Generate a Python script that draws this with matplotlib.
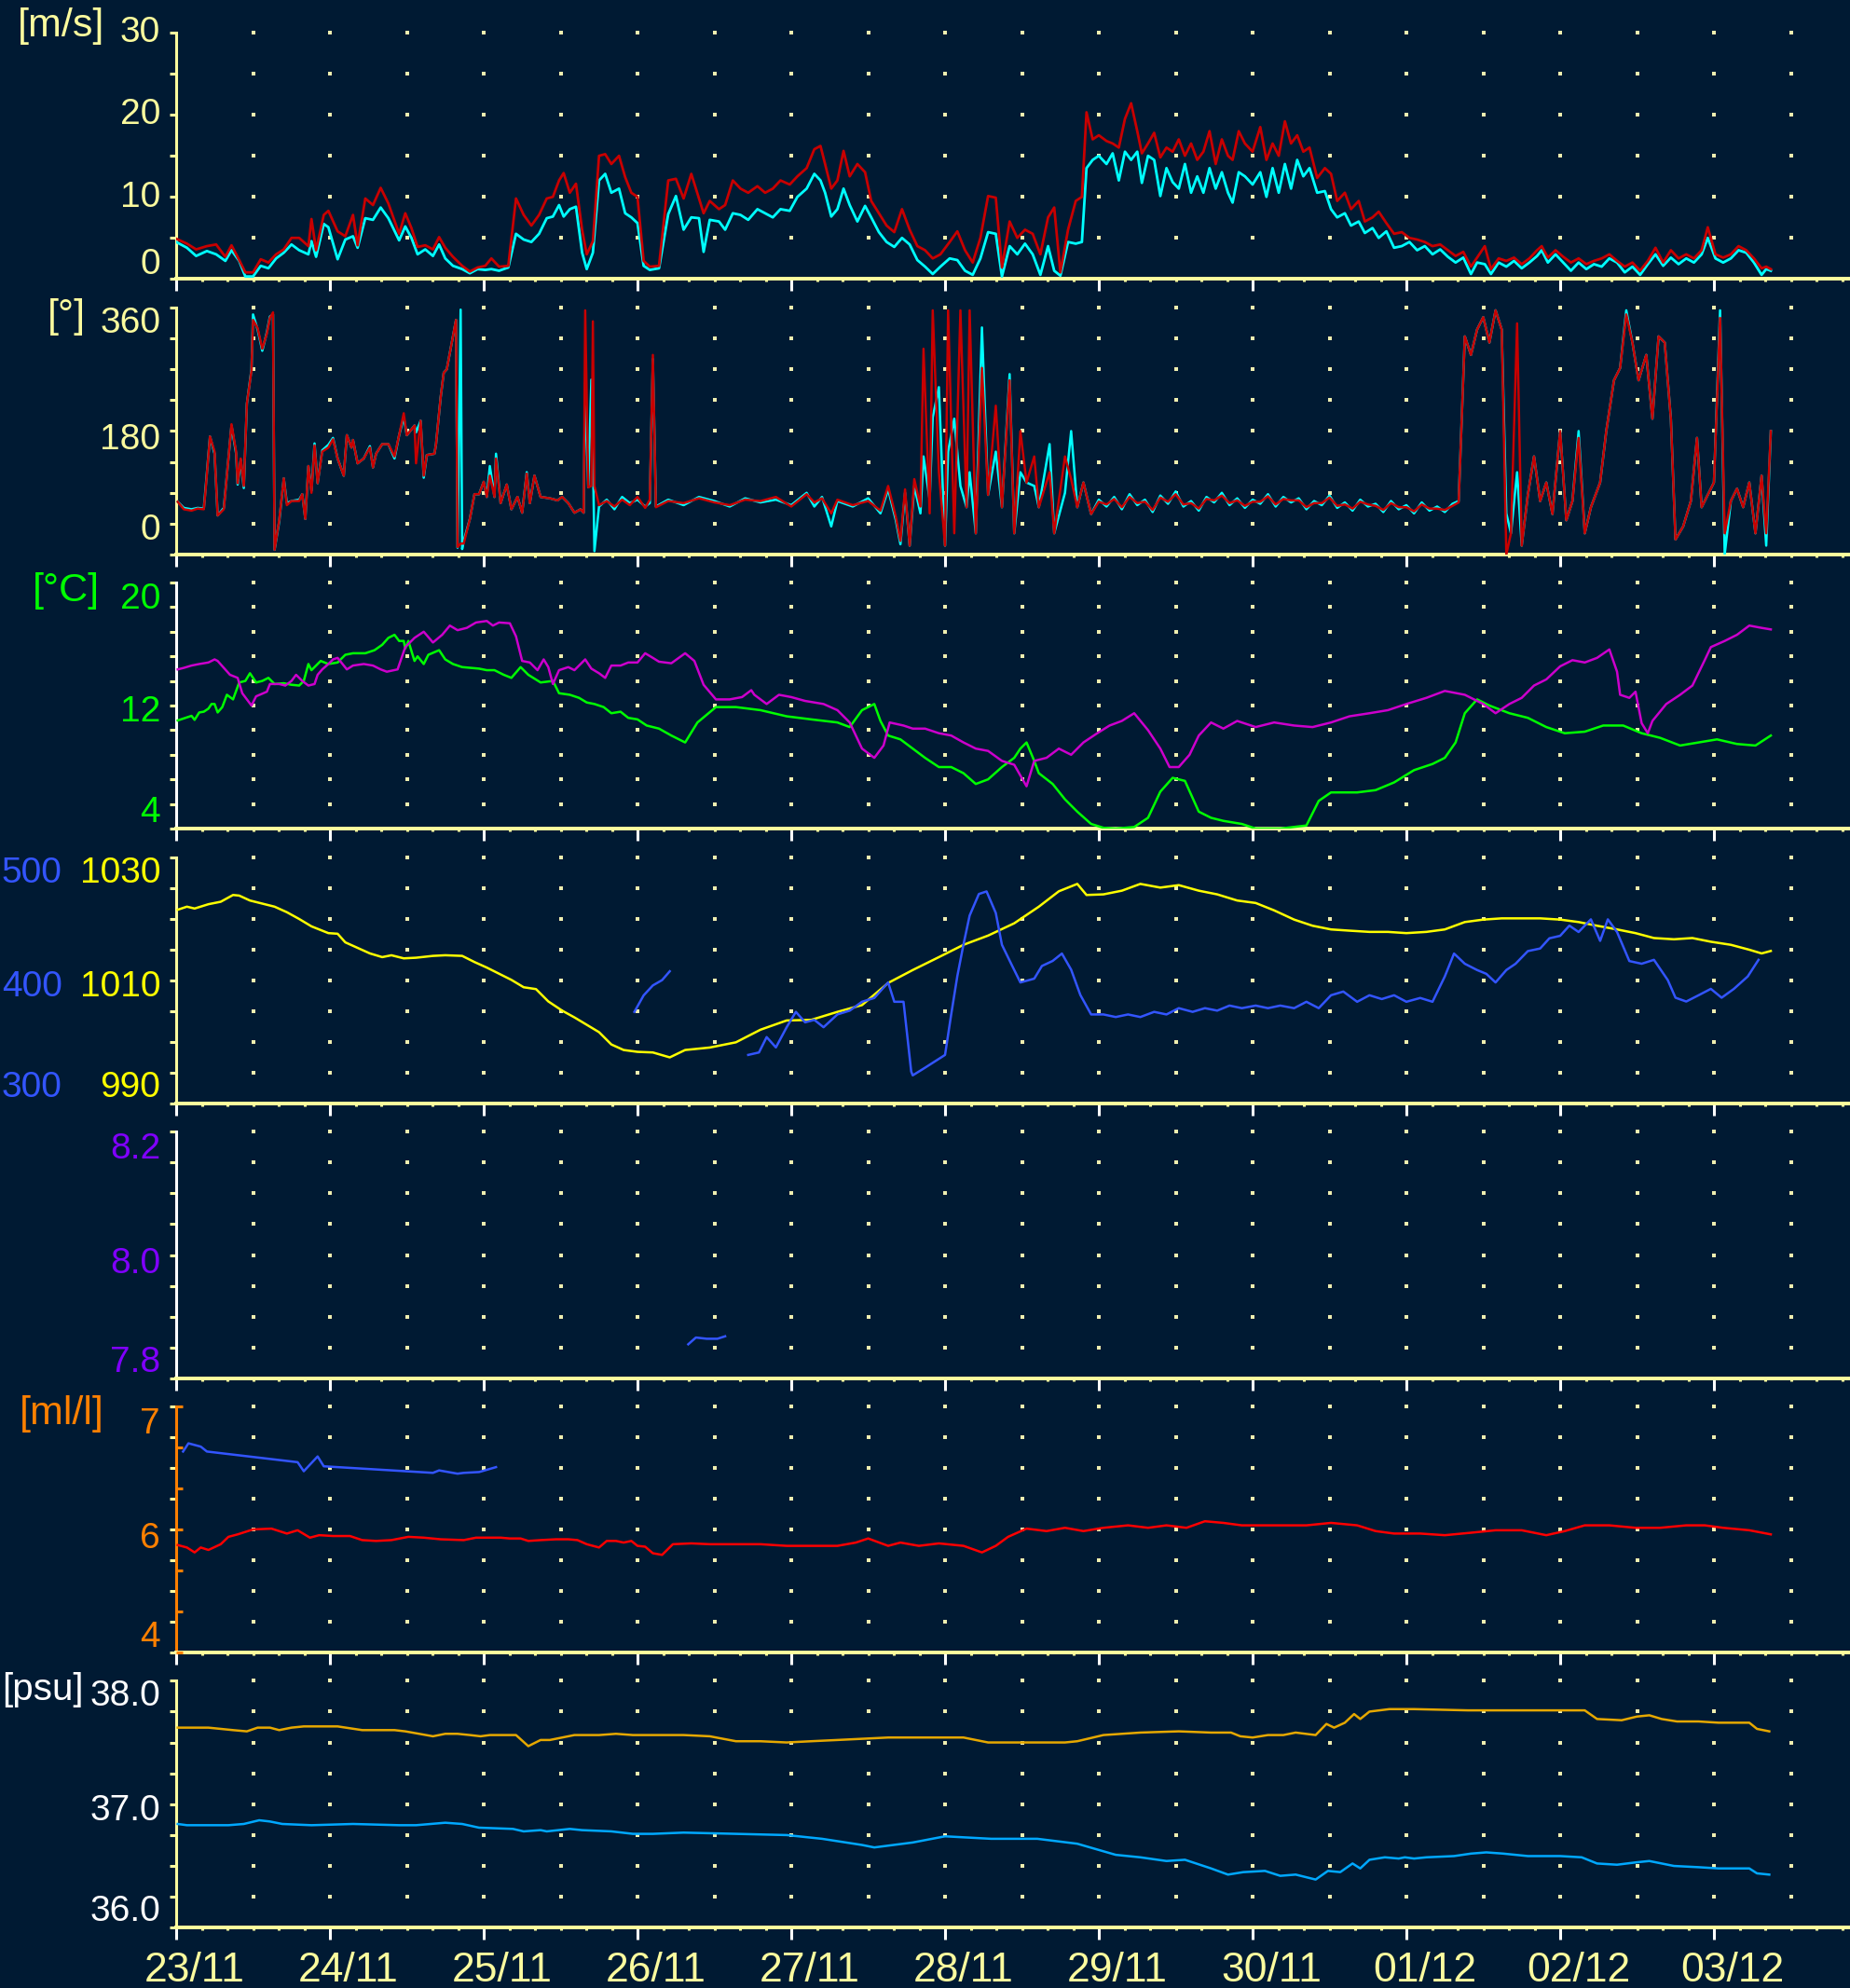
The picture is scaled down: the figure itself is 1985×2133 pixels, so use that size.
import numpy as np
import matplotlib
matplotlib.use("Agg")
import matplotlib.pyplot as plt
from matplotlib.transforms import ScaledTranslation

plt.rcParams['font.family'] = ['Liberation Sans', 'DejaVu Sans']

# time axis: days since 23/11 00:00
day_labels = ['23/11', '24/11', '25/11', '26/11', '27/11', '28/11',
              '29/11', '30/11', '01/12', '02/12', '03/12']

# --- wind speed [m/s]: mean (cyan) and gust (red)
ws_t = [0.00, 0.07, 0.13, 0.20, 0.26, 0.32, 0.36, 0.41, 0.45, 0.50,
        0.55, 0.60, 0.65, 0.70, 0.75, 0.80, 0.86, 0.88, 0.91, 0.96,
        0.99, 1.05, 1.10, 1.15, 1.18, 1.23, 1.28, 1.33, 1.38, 1.45,
        1.49, 1.53, 1.57, 1.62, 1.67, 1.71, 1.75, 1.80, 1.86, 1.91,
        1.96, 2.01, 2.05, 2.10, 2.16, 2.21, 2.26, 2.31, 2.36, 2.41,
        2.45, 2.49, 2.52, 2.56, 2.60, 2.64, 2.67, 2.71, 2.75, 2.79,
        2.83, 2.88, 2.92, 2.96, 3.00, 3.04, 3.08, 3.14, 3.20, 3.25,
        3.30, 3.35, 3.40, 3.43, 3.47, 3.53, 3.57, 3.62, 3.67, 3.72,
        3.78, 3.83, 3.88, 3.93, 3.99, 4.04, 4.10, 4.15, 4.19, 4.22,
        4.26, 4.30, 4.34, 4.38, 4.43, 4.48, 4.52, 4.57, 4.62, 4.67,
        4.72, 4.77, 4.82, 4.87, 4.92, 4.97, 5.03, 5.08, 5.13, 5.18,
        5.23, 5.28, 5.33, 5.37, 5.42, 5.47, 5.52, 5.57, 5.62, 5.67,
        5.71, 5.75, 5.80, 5.85, 5.89, 5.92, 5.96, 6.00, 6.05, 6.09,
        6.13, 6.17, 6.21, 6.25, 6.28, 6.32, 6.36, 6.40, 6.44, 6.48,
        6.52, 6.56, 6.60, 6.64, 6.68, 6.72, 6.76, 6.80, 6.84, 6.87,
        6.91, 6.95, 7.00, 7.05, 7.09, 7.13, 7.17, 7.21, 7.25, 7.29,
        7.33, 7.37, 7.42, 7.47, 7.51, 7.55, 7.60, 7.64, 7.69, 7.73,
        7.78, 7.82, 7.87, 7.92, 7.97, 8.02, 8.07, 8.12, 8.17, 8.22,
        8.27, 8.32, 8.37, 8.42, 8.46, 8.51, 8.55, 8.60, 8.65, 8.70,
        8.75, 8.80, 8.85, 8.88, 8.92, 8.97, 9.02, 9.07, 9.12, 9.17,
        9.22, 9.27, 9.32, 9.37, 9.42, 9.47, 9.52, 9.57, 9.62, 9.67,
        9.72, 9.77, 9.82, 9.87, 9.92, 9.96, 10.01, 10.06, 10.11, 10.16,
        10.21, 10.26, 10.31, 10.34, 10.37]
ws_mean = [4.5, 3.8, 2.8, 3.4, 3.0, 2.2, 3.5, 2.2, 0.3, 0.3,
           1.6, 1.3, 2.5, 3.2, 4.2, 3.5, 3.0, 4.6, 2.7, 6.7,
           6.3, 2.4, 4.8, 5.2, 3.8, 7.4, 7.2, 8.7, 7.4, 4.7,
           6.4, 5.0, 3.0, 3.6, 2.8, 4.2, 2.5, 1.6, 1.2, 0.7,
           1.2, 1.1, 1.2, 1.0, 1.4, 5.5, 4.8, 4.5, 5.5, 7.4,
           7.6, 9.0, 7.6, 8.5, 8.8, 3.2, 1.2, 3.2, 12.0, 12.8,
           10.5, 11.0, 8.0, 7.5, 6.8, 1.6, 1.1, 1.3, 7.9, 10.1,
           6.0, 7.5, 7.4, 3.3, 7.2, 7.0, 6.0, 8.0, 7.8, 7.2,
           8.5, 8.0, 7.5, 8.5, 8.3, 10.0, 11.0, 12.8, 12.0, 10.5,
           7.6, 8.5, 11.0, 9.0, 7.0, 8.9, 7.5, 5.7, 4.5, 3.9,
           5.0, 4.2, 2.3, 1.5, 0.6, 1.5, 2.5, 2.3, 1.0, 0.5,
           2.5, 5.7, 5.5, 0.3, 4.0, 3.0, 4.3, 3.0, 0.5, 4.0,
           1.0, 0.4, 4.5, 4.3, 4.5, 13.5, 14.5, 15.0, 14.0, 15.3,
           12.0, 15.5, 14.5, 15.5, 11.7, 15.0, 14.5, 10.1, 13.5, 11.8,
           11.0, 14.0, 10.5, 12.5, 10.5, 13.5, 11.0, 13.0, 10.5, 9.3,
           13.0, 12.5, 11.5, 13.0, 10.0, 13.5, 10.5, 14.0, 11.0, 14.5,
           12.5, 13.5, 10.5, 10.7, 8.5, 7.5, 8.0, 6.5, 7.0, 5.6,
           6.2, 5.0, 5.8, 3.8, 4.0, 4.5, 3.5, 4.0, 3.0, 3.6,
           2.7, 2.0, 2.6, 0.6, 2.0, 1.8, 0.6, 2.0, 1.5, 2.2,
           1.3, 2.0, 2.8, 3.5, 2.0, 3.0, 2.0, 1.0, 2.0, 1.2,
           1.8, 1.5, 2.5, 2.0, 0.8, 1.5, 0.5, 1.8, 3.0, 1.6,
           2.6, 1.8, 2.5, 2.0, 3.0, 5.0, 2.5, 2.0, 2.5, 3.5,
           3.2, 2.0, 0.5, 1.2, 1.0]
ws_gust = [4.9, 4.3, 3.6, 4.0, 4.2, 2.7, 4.1, 2.3, 0.8, 0.8,
           2.4, 2.0, 3.0, 3.6, 5.0, 5.0, 4.0, 7.3, 3.5, 7.8,
           8.3, 5.8, 5.2, 7.8, 4.1, 9.8, 9.0, 11.1, 9.2, 5.5,
           8.0, 6.2, 3.9, 4.1, 3.6, 5.1, 3.8, 2.7, 1.6, 0.9,
           1.4, 1.6, 2.5, 1.5, 1.6, 9.8, 7.8, 6.5, 7.8, 9.8,
           10.0, 12.0, 12.9, 10.5, 11.6, 6.0, 3.0, 4.6, 15.0, 15.2,
           14.0, 15.0, 12.4, 10.5, 10.0, 2.2, 1.5, 1.6, 12.0, 12.2,
           9.8, 12.8, 9.8, 8.0, 9.5, 8.5, 9.0, 12.0, 11.0, 10.5,
           11.3, 10.5, 11.0, 12.0, 11.5, 12.5, 13.5, 15.8, 16.2, 14.0,
           11.0, 12.0, 15.6, 12.5, 14.0, 13.0, 9.5, 8.0, 6.5, 5.7,
           8.5, 6.0, 4.0, 3.5, 2.5, 3.0, 4.5, 5.8, 3.5, 2.0,
           5.0, 10.1, 9.9, 1.4, 7.0, 5.0, 6.0, 5.5, 3.0, 7.5,
           8.7, 0.8, 6.0, 9.5, 10.0, 20.3, 17.0, 17.5, 16.8, 16.5,
           16.0, 19.5, 21.4, 18.0, 15.3, 16.5, 17.8, 14.8, 16.0, 15.5,
           17.0, 15.0, 16.5, 14.5, 15.5, 18.0, 14.0, 17.0, 15.0, 14.5,
           18.0, 16.5, 15.5, 18.5, 14.5, 16.5, 15.0, 19.2, 16.5, 17.5,
           15.5, 16.0, 12.3, 13.5, 12.8, 9.5, 10.5, 8.5, 9.5, 7.0,
           7.5, 8.2, 6.8, 5.5, 5.7, 5.0, 4.8, 4.5, 4.0, 4.2,
           3.5, 2.8, 3.3, 1.5, 2.6, 4.0, 1.2, 2.5, 2.2, 2.6,
           1.8, 2.5, 3.5, 4.0, 2.6, 3.5, 2.7, 2.0, 2.5, 1.8,
           2.2, 2.5, 3.0, 2.2, 1.5, 2.0, 1.0, 2.2, 3.8, 2.0,
           3.5, 2.5, 3.0, 2.5, 3.5, 6.3, 3.0, 2.6, 3.0, 4.0,
           3.5, 2.5, 1.3, 1.5, 1.2]

# --- wind direction [deg]
wd_t = [0.01, 0.05, 0.10, 0.14, 0.18, 0.19, 0.22, 0.25, 0.27, 0.31,
        0.36, 0.39, 0.40, 0.42, 0.44, 0.46, 0.49, 0.50, 0.53, 0.56,
        0.59, 0.61, 0.63, 0.64, 0.67, 0.70, 0.72, 0.75, 0.80, 0.82,
        0.84, 0.86, 0.88, 0.90, 0.92, 0.95, 0.99, 1.02, 1.05, 1.09,
        1.11, 1.14, 1.15, 1.18, 1.22, 1.26, 1.28, 1.30, 1.34, 1.38,
        1.42, 1.45, 1.48, 1.50, 1.55, 1.56, 1.59, 1.61, 1.63, 1.68,
        1.69, 1.72, 1.74, 1.76, 1.82, 1.83, 1.85, 1.86, 1.87, 1.91,
        1.94, 1.97, 2.00, 2.02, 2.04, 2.07, 2.08, 2.11, 2.15, 2.18,
        2.22, 2.25, 2.28, 2.30, 2.33, 2.37, 2.43, 2.48, 2.51, 2.55,
        2.59, 2.63, 2.65, 2.66, 2.68, 2.70, 2.71, 2.72, 2.75, 2.80,
        2.85, 2.90, 2.95, 3.00, 3.05, 3.08, 3.10, 3.12, 3.20, 3.30,
        3.40, 3.50, 3.60, 3.70, 3.80, 3.90, 4.00, 4.10, 4.15, 4.20,
        4.26, 4.30, 4.40, 4.50, 4.58, 4.63, 4.68, 4.71, 4.74, 4.77,
        4.80, 4.84, 4.86, 4.90, 4.92, 4.96, 5.00, 5.02, 5.06, 5.10,
        5.14, 5.16, 5.20, 5.24, 5.28, 5.33, 5.37, 5.42, 5.45, 5.49,
        5.53, 5.58, 5.61, 5.68, 5.71, 5.78, 5.82, 5.86, 5.90, 5.95,
        6.00, 6.05, 6.10, 6.15, 6.20, 6.25, 6.30, 6.35, 6.40, 6.45,
        6.50, 6.55, 6.60, 6.65, 6.70, 6.75, 6.80, 6.85, 6.90, 6.95,
        7.00, 7.05, 7.10, 7.15, 7.20, 7.25, 7.30, 7.35, 7.40, 7.45,
        7.50, 7.55, 7.60, 7.65, 7.70, 7.75, 7.80, 7.85, 7.90, 7.95,
        8.00, 8.05, 8.10, 8.15, 8.20, 8.25, 8.30, 8.34, 8.38, 8.42, 8.46, 8.50, 8.54,
        8.58, 8.62, 8.65, 8.68, 8.72, 8.75, 8.79, 8.83, 8.87, 8.91,
        8.95, 9.00, 9.04, 9.08, 9.12, 9.16, 9.20, 9.26, 9.30, 9.35,
        9.39, 9.43, 9.47, 9.51, 9.56, 9.60, 9.64, 9.68, 9.72, 9.75,
        9.80, 9.85, 9.89, 9.92, 9.96, 10.00, 10.04, 10.07, 10.11, 10.15,
        10.19, 10.23, 10.27, 10.31, 10.34, 10.37]
wd_cyan = [77, 68, 66, 68, 67, 93, 172, 147, 57, 68,
           188, 147, 102, 138, 97, 220, 270, 350, 328, 297,
           324, 347, 350, 7, 48, 111, 75, 78, 80, 88,
           52, 129, 93, 162, 104, 152, 160, 170, 140, 115,
           174, 156, 167, 133, 140, 158, 127, 147, 161, 161,
           140, 174, 200, 174, 188, 178, 195, 112, 145, 147,
           161, 229, 265, 270, 342, 10, 357, 8, 20, 52,
           88, 88, 106, 84, 129, 84, 147, 75, 102, 66,
           84, 61, 120, 75, 115, 84, 82, 79, 84, 75,
           61, 66, 61, 250, 98, 255, 150, 5, 70, 80,
           66, 84, 75, 80, 70, 75, 285, 70, 80, 72,
           84, 78, 70, 82, 76, 80, 72, 90, 70, 84,
           41, 78, 70, 82, 60, 95, 50, 15, 90, 13,
           100, 60, 143, 80, 200, 244, 13, 150, 198, 100,
           69, 120, 31, 331, 87, 150, 69, 263, 31, 120,
           105, 100, 69, 161, 31, 90, 180, 69, 105, 59,
           80, 70, 84, 66, 88, 72, 80, 62, 86, 74,
           92, 70, 78, 64, 84, 76, 90, 72, 82, 68,
           80, 74, 88, 70, 84, 76, 82, 66, 78, 72,
           86, 68, 76, 64, 80, 70, 74, 62, 78, 66,
           72, 60, 76, 64, 70, 62, 74, 78, 318, 291, 328, 346, 309,
           356, 328, 60, 31, 120, 13, 87, 143, 78, 105,
           59, 180, 50, 78, 180, 31, 69, 105, 180, 254,
           272, 356, 309, 254, 291, 198, 318, 309, 198, 22,
           41, 78, 170, 69, 87, 105, 356, 0, 78, 96,
           69, 105, 31, 115, 13, 180]
wd_red = [77, 66, 64, 67, 66, 90, 172, 150, 57, 66,
          190, 150, 104, 140, 100, 220, 268, 342, 330, 300,
          322, 345, 353, 7, 50, 111, 72, 78, 78, 88,
          52, 129, 90, 159, 104, 150, 156, 168, 140, 115,
          174, 156, 167, 133, 140, 156, 127, 147, 161, 161,
          143, 174, 206, 174, 188, 133, 195, 115, 145, 147,
          161, 229, 265, 270, 342, 11, 16, 16, 16, 52,
          88, 88, 106, 84, 115, 84, 140, 75, 102, 66,
          84, 61, 118, 75, 115, 84, 82, 79, 84, 75,
          61, 66, 61, 356, 98, 100, 340, 100, 72, 78,
          70, 80, 72, 84, 68, 80, 291, 69, 78, 75,
          82, 76, 72, 80, 78, 84, 70, 88, 76, 82,
          60, 80, 72, 78, 64, 100, 55, 20, 95, 13,
          110, 70, 300, 60, 356, 120, 13, 356, 31, 356,
          69, 356, 31, 272, 87, 217, 69, 254, 31, 180,
          105, 143, 69, 120, 31, 143, 110, 69, 105, 59,
          77, 73, 81, 69, 84, 75, 77, 65, 83, 77,
          88, 73, 75, 67, 81, 79, 86, 75, 79, 71,
          77, 77, 85, 73, 81, 79, 79, 69, 75, 75,
          83, 71, 73, 67, 77, 73, 71, 65, 75, 69,
          69, 63, 73, 67, 67, 65, 71, 76, 318, 291, 328, 346, 309,
          356, 328, 0, 31, 337, 13, 87, 143, 78, 105,
          59, 180, 50, 78, 170, 31, 69, 105, 180, 254,
          272, 350, 309, 254, 291, 198, 318, 309, 198, 22,
          41, 78, 170, 69, 87, 105, 345, 31, 78, 96,
          69, 105, 31, 115, 31, 180]

# --- temperature [C]: air (green) and sea (magenta)
tair_t = [0.01, 0.06, 0.10, 0.12, 0.15, 0.18, 0.21, 0.23, 0.25, 0.27,
          0.30, 0.33, 0.37, 0.41, 0.45, 0.48, 0.52, 0.56, 0.60, 0.64,
          0.70, 0.75, 0.80, 0.83, 0.86, 0.88, 0.91, 0.94, 0.99, 1.05,
          1.10, 1.15, 1.23, 1.29, 1.34, 1.38, 1.42, 1.45, 1.48, 1.49,
          1.51, 1.55, 1.57, 1.61, 1.64, 1.71, 1.75, 1.80, 1.86, 1.97,
          2.02, 2.07, 2.13, 2.18, 2.24, 2.29, 2.37, 2.45, 2.49, 2.56,
          2.62, 2.67, 2.72, 2.78, 2.83, 2.89, 2.94, 3.00, 3.06, 3.14,
          3.22, 3.31, 3.39, 3.51, 3.64, 3.80, 3.97, 4.13, 4.30, 4.38,
          4.46, 4.54, 4.58, 4.63, 4.71, 4.79, 4.87, 4.96, 5.04, 5.12,
          5.20, 5.28, 5.37, 5.45, 5.49, 5.53, 5.58, 5.61, 5.70, 5.78,
          5.86, 5.95, 6.03, 6.11, 6.23, 6.32, 6.40, 6.48, 6.56, 6.65,
          6.73, 6.81, 6.93, 7.02, 7.18, 7.35, 7.43, 7.51, 7.68, 7.80,
          7.92, 8.05, 8.17, 8.25, 8.32, 8.38, 8.46, 8.54, 8.67, 8.79,
          8.91, 9.03, 9.16, 9.28, 9.41, 9.53, 9.65, 9.78, 9.90, 10.02,
          10.15, 10.27, 10.37]
tair_v = [11.03, 11.2, 11.33, 11.07, 11.55, 11.6, 11.8, 12.1, 12.1, 11.55,
          11.9, 12.7, 12.4, 13.5, 13.6, 14.1, 13.5, 13.6, 13.8, 13.4,
          13.45, 13.35, 13.3, 13.6, 14.7, 14.3, 14.6, 14.9, 14.7, 14.8,
          15.3, 15.4, 15.4, 15.6, 15.95, 16.4, 16.6, 16.2, 16.2, 15.7,
          16.2, 14.9, 15.2, 14.7, 15.3, 15.6, 15.0, 14.7, 14.5, 14.4,
          14.3, 14.3, 14.0, 13.8, 14.5, 14.0, 13.5, 13.6, 12.8, 12.7,
          12.5, 12.2, 12.1, 11.9, 11.5, 11.6, 11.2, 11.1, 10.7, 10.5,
          10.05, 9.6, 10.9, 11.9, 11.9, 11.7, 11.3, 11.1, 10.9, 10.6,
          11.7, 12.1, 11.0, 10.05, 9.8, 9.2, 8.6, 8.0, 8.0, 7.6,
          6.9, 7.2, 8.0, 8.6, 9.2, 9.6, 8.4, 7.6, 6.9, 5.9,
          5.1, 4.3, 4.05, 4.0, 4.1, 4.7, 6.4, 7.3, 7.1, 5.1,
          4.7, 4.5, 4.3, 4.0, 4.0, 4.2, 5.8, 6.35, 6.35, 6.5,
          7.0, 7.8, 8.2, 8.6, 9.6, 11.5, 12.4, 12.0, 11.5, 11.2,
          10.6, 10.2, 10.3, 10.7, 10.7, 10.2, 9.9, 9.4, 9.6, 9.8,
          9.5, 9.4, 10.05]
tsea_t = [0.01, 0.05, 0.10, 0.15, 0.21, 0.25, 0.27, 0.31, 0.35, 0.40,
          0.43, 0.46, 0.49, 0.52, 0.59, 0.61, 0.67, 0.71, 0.75, 0.78,
          0.82, 0.86, 0.90, 0.92, 0.95, 0.99, 1.02, 1.05, 1.11, 1.15,
          1.22, 1.28, 1.33, 1.37, 1.44, 1.49, 1.55, 1.61, 1.67, 1.73,
          1.78, 1.83, 1.89, 1.95, 2.02, 2.06, 2.10, 2.17, 2.21, 2.25,
          2.30, 2.35, 2.39, 2.42, 2.45, 2.49, 2.55, 2.59, 2.66, 2.70,
          2.75, 2.79, 2.83, 2.89, 2.94, 3.00, 3.05, 3.10, 3.14, 3.22,
          3.31, 3.37, 3.43, 3.51, 3.60, 3.68, 3.74, 3.76, 3.84, 3.92,
          4.00, 4.09, 4.21, 4.30, 4.38, 4.42, 4.46, 4.54, 4.60, 4.64,
          4.73, 4.79, 4.87, 4.96, 5.04, 5.12, 5.20, 5.28, 5.37, 5.45,
          5.53, 5.58, 5.66, 5.74, 5.82, 5.90, 5.99, 6.07, 6.15, 6.23,
          6.32, 6.40, 6.46, 6.52, 6.59, 6.65, 6.73, 6.81, 6.90, 7.02,
          7.14, 7.27, 7.39, 7.51, 7.63, 7.76, 7.88, 8.00, 8.13, 8.25,
          8.38, 8.50, 8.58, 8.67, 8.75, 8.83, 8.91, 9.00, 9.08, 9.16,
          9.24, 9.32, 9.37, 9.39, 9.45, 9.49, 9.53, 9.57, 9.60, 9.69,
          9.78, 9.86, 9.94, 9.98, 10.07, 10.15, 10.23, 10.31, 10.37]
tsea_v = [14.35, 14.45, 14.6, 14.7, 14.8, 15.0, 14.9, 14.45, 14.0, 13.8,
          12.8, 12.4, 12.0, 12.6, 12.9, 13.4, 13.4, 13.3, 13.6, 14.0,
          13.6, 13.3, 13.4, 14.0, 14.35, 14.7, 15.0, 15.1, 14.35, 14.6,
          14.7, 14.6, 14.35, 14.2, 14.35, 15.8, 16.4, 16.8, 16.1, 16.6,
          17.2, 16.9, 17.05, 17.4, 17.5, 17.2, 17.4, 17.35, 16.5, 14.9,
          14.8, 14.3, 15.0, 14.5, 13.4, 14.3, 14.5, 14.3, 15.0, 14.4,
          14.1, 13.8, 14.6, 14.6, 14.8, 14.8, 15.4, 15.1, 14.85, 14.75,
          15.4, 14.9, 13.35, 12.4, 12.4, 12.55, 13.0, 12.7, 12.1, 12.7,
          12.55, 12.3, 12.1, 11.7, 10.9, 10.05, 9.2, 8.6, 9.4, 10.9,
          10.7, 10.5, 10.5, 10.2, 10.05, 9.6, 9.2, 9.05, 8.4, 8.15,
          6.75, 8.4, 8.6, 9.2, 8.8, 9.6, 10.2, 10.7, 11.0, 11.5,
          10.4, 9.2, 8.0, 8.0, 8.8, 10.05, 10.9, 10.5, 11.0, 10.6,
          10.9, 10.7, 10.6, 10.9, 11.3, 11.5, 11.7, 12.1, 12.5, 12.95,
          12.7, 12.1, 11.5, 12.1, 12.5, 13.3, 13.7, 14.55, 14.95, 14.8,
          15.1, 15.65, 14.2, 12.7, 12.5, 12.9, 10.85, 10.2, 11.0, 12.1,
          12.7, 13.3, 14.95, 15.8, 16.2, 16.6, 17.2, 17.05, 16.95]

# --- pressure [hPa] (yellow) and second series on 300-500 scale (blue)
pres_t = [0.01, 0.07, 0.12, 0.21, 0.29, 0.37, 0.41, 0.48, 0.56, 0.64,
          0.72, 0.80, 0.88, 0.99, 1.05, 1.10, 1.18, 1.26, 1.34, 1.40,
          1.48, 1.56, 1.67, 1.75, 1.86, 1.94, 2.02, 2.10, 2.18, 2.26,
          2.34, 2.42, 2.51, 2.59, 2.67, 2.75, 2.83, 2.91, 3.00, 3.10,
          3.21, 3.31, 3.47, 3.64, 3.80, 3.97, 4.13, 4.30, 4.46, 4.63,
          4.79, 4.96, 5.12, 5.28, 5.45, 5.61, 5.74, 5.86, 5.92, 6.03,
          6.15, 6.27, 6.40, 6.52, 6.65, 6.77, 6.90, 7.02, 7.14, 7.27,
          7.39, 7.51, 7.63, 7.76, 7.88, 8.00, 8.13, 8.25, 8.38, 8.50,
          8.62, 8.75, 8.87, 9.00, 9.12, 9.24, 9.37, 9.49, 9.61, 9.74,
          9.86, 9.98, 10.11, 10.23, 10.31, 10.37]
pres_v = [1021.5, 1022.0, 1021.7, 1022.4, 1022.8, 1023.9, 1023.8, 1023.0, 1022.5, 1022.0,
          1021.1, 1020.0, 1018.8, 1017.7, 1017.6, 1016.2, 1015.3, 1014.4, 1013.8, 1014.1,
          1013.6, 1013.7, 1014.0, 1014.1, 1014.0, 1013.0, 1012.1, 1011.1, 1010.1, 1008.9,
          1008.6, 1006.6, 1005.1, 1004.0, 1002.8, 1001.6, 999.6, 998.7, 998.4, 998.3,
          997.5, 998.7, 999.1, 999.95, 1002.0, 1003.5, 1003.6, 1004.9, 1006.0, 1009.6,
          1011.7, 1013.8, 1015.8, 1017.3, 1019.3, 1022.0, 1024.5, 1025.7, 1023.9, 1024.0,
          1024.6, 1025.7, 1025.1, 1025.5, 1024.6, 1024.0, 1023.0, 1022.6, 1021.4, 1019.9,
          1018.9, 1018.3, 1018.1, 1017.9, 1017.9, 1017.7, 1017.9, 1018.3, 1019.5, 1019.9,
          1020.1, 1020.1, 1020.1, 1019.9, 1019.5, 1018.9, 1018.3, 1017.7, 1016.9, 1016.7,
          1016.9, 1016.3, 1015.8, 1015.0, 1014.4, 1014.8]
cond_t1 = [2.98, 3.04, 3.10, 3.16, 3.21]
cond_v1 = [374.5, 387.9, 396.0, 400.3, 407.5]
cond_t2 = [3.72, 3.79, 3.84, 3.90, 3.97, 4.03, 4.09, 4.15, 4.21, 4.30,
           4.38, 4.46, 4.54, 4.63, 4.67, 4.73, 4.78, 4.79, 4.87, 4.96,
           5.00, 5.04, 5.08, 5.12, 5.16, 5.22, 5.27, 5.33, 5.37, 5.43,
           5.49, 5.58, 5.63, 5.70, 5.76, 5.82, 5.88, 5.95, 6.03, 6.11,
           6.19, 6.27, 6.36, 6.44, 6.52, 6.61, 6.69, 6.77, 6.85, 6.93,
           7.02, 7.10, 7.18, 7.27, 7.35, 7.43, 7.51, 7.59, 7.68, 7.76,
           7.84, 7.92, 8.00, 8.09, 8.17, 8.25, 8.31, 8.38, 8.46, 8.52,
           8.58, 8.65, 8.71, 8.79, 8.87, 8.93, 9.00, 9.06, 9.12, 9.16,
           9.20, 9.26, 9.31, 9.37, 9.45, 9.53, 9.61, 9.70, 9.75, 9.82,
           9.90, 9.98, 10.05, 10.13, 10.22, 10.29]
cond_v2 = [339.5, 341.5, 354.0, 345.6, 362.0, 374.5, 366.0, 368.0, 362.0, 372.4,
           375.5, 382.7, 385.8, 398.4, 382.7, 382.7, 326.0, 322.9, 329.1, 336.3,
           339.5, 372.4, 403.6, 429.3, 452.8, 470.3, 472.4, 454.9, 429.0, 413.6,
           398.4, 401.5, 411.8, 415.9, 421.9, 408.8, 388.2, 372.4, 372.4, 370.3,
           372.4, 370.3, 374.5, 372.4, 377.5, 374.5, 377.5, 375.5, 379.6, 377.5,
           379.6, 377.5, 379.6, 377.5, 382.7, 377.5, 388.0, 391.0, 382.7, 388.0,
           384.9, 388.0, 382.7, 385.8, 382.7, 403.3, 421.9, 413.6, 408.5, 405.4,
           398.4, 408.5, 413.6, 423.9, 426.0, 434.3, 436.3, 444.6, 439.4, 444.6,
           449.7, 432.2, 449.7, 439.4, 415.8, 413.6, 416.8, 400.3, 386.0, 382.9,
           388.0, 393.2, 386.0, 393.2, 403.3, 416.8]

# --- pH
ph_t = [3.33, 3.38, 3.45, 3.52, 3.57]
ph_v = [7.855, 7.866, 7.864, 7.864, 7.868]

# --- dissolved oxygen [ml/l]
ox1_t = [0.045, 0.08, 0.16, 0.20, 0.79, 0.83, 0.92, 0.96, 1.67, 1.71, 1.83, 1.87, 1.97, 2.08]
ox1_v = [6.45, 6.55, 6.51, 6.45, 6.32, 6.21, 6.39, 6.27, 6.19, 6.22, 6.18, 6.19, 6.20, 6.26]
ox2_t = [0.01, 0.07, 0.12, 0.16, 0.21, 0.29, 0.34, 0.40, 0.45, 0.50,
         0.62, 0.72, 0.79, 0.87, 0.93, 1.02, 1.13, 1.21, 1.30, 1.40,
         1.51, 1.61, 1.72, 1.87, 1.95, 2.11, 2.17, 2.24, 2.29, 2.37,
         2.47, 2.55, 2.61, 2.67, 2.75, 2.80, 2.86, 2.91, 2.96, 3.00,
         3.05, 3.10, 3.16, 3.23, 3.35, 3.47, 3.64, 3.80, 3.97, 4.13,
         4.30, 4.42, 4.50, 4.63, 4.71, 4.83, 4.96, 5.12, 5.24, 5.33,
         5.41, 5.53, 5.66, 5.78, 5.90, 6.03, 6.19, 6.32, 6.44, 6.57,
         6.69, 6.81, 6.93, 7.06, 7.18, 7.35, 7.51, 7.68, 7.80, 7.92,
         8.09, 8.25, 8.42, 8.58, 8.75, 8.91, 9.03, 9.16, 9.32, 9.49,
         9.65, 9.82, 9.94, 10.06, 10.23, 10.37]
ox2_v = [5.31, 5.28, 5.22, 5.28, 5.25, 5.32, 5.41, 5.44, 5.47, 5.50,
         5.51, 5.45, 5.49, 5.40, 5.43, 5.42, 5.42, 5.37, 5.36, 5.37,
         5.41, 5.40, 5.38, 5.37, 5.40, 5.40, 5.39, 5.39, 5.36, 5.37,
         5.38, 5.38, 5.37, 5.32, 5.28, 5.36, 5.36, 5.34, 5.36, 5.30,
         5.29, 5.21, 5.19, 5.32, 5.33, 5.32, 5.32, 5.32, 5.30, 5.30,
         5.30, 5.34, 5.39, 5.30, 5.34, 5.30, 5.33, 5.30, 5.22, 5.30,
         5.41, 5.51, 5.48, 5.52, 5.48, 5.52, 5.55, 5.52, 5.55, 5.52,
         5.60, 5.58, 5.55, 5.55, 5.55, 5.55, 5.58, 5.55, 5.48, 5.45,
         5.45, 5.43, 5.46, 5.49, 5.49, 5.43, 5.48, 5.55, 5.55, 5.52,
         5.52, 5.55, 5.55, 5.52, 5.49, 5.44]

# --- salinity [psu]
sal1_t = [0.01, 0.21, 0.37, 0.46, 0.53, 0.61, 0.67, 0.75, 0.83, 1.05,
          1.21, 1.29, 1.42, 1.49, 1.58, 1.67, 1.75, 1.83, 1.91, 1.98,
          2.04, 2.21, 2.29, 2.37, 2.43, 2.51, 2.59, 2.75, 2.86, 2.97,
          3.10, 3.30, 3.47, 3.64, 3.80, 3.97, 4.13, 4.30, 4.63, 4.79,
          5.12, 5.28, 5.50, 5.78, 5.86, 6.03, 6.27, 6.52, 6.73, 6.86,
          6.92, 7.00, 7.10, 7.20, 7.28, 7.41, 7.48, 7.53, 7.60, 7.66,
          7.70, 7.76, 7.89, 8.05, 8.40, 8.80, 9.11, 9.16, 9.24, 9.40,
          9.50, 9.58, 9.66, 9.76, 9.90, 10.03, 10.23, 10.28, 10.36]
sal1_v = [37.62, 37.62, 37.60, 37.59, 37.62, 37.62, 37.60, 37.62, 37.63, 37.63,
          37.60, 37.60, 37.60, 37.59, 37.57, 37.55, 37.57, 37.57, 37.56, 37.55,
          37.56, 37.56, 37.47, 37.52, 37.52, 37.54, 37.56, 37.56, 37.57, 37.56,
          37.56, 37.56, 37.55, 37.51, 37.51, 37.50, 37.51, 37.52, 37.54, 37.54,
          37.54, 37.50, 37.50, 37.50, 37.51, 37.56, 37.58, 37.59, 37.58, 37.58,
          37.55, 37.54, 37.56, 37.56, 37.58, 37.56, 37.65, 37.62, 37.66, 37.73,
          37.69, 37.75, 37.77, 37.77, 37.76, 37.76, 37.76, 37.76, 37.69, 37.68,
          37.71, 37.72, 37.69, 37.67, 37.67, 37.66, 37.66, 37.61, 37.59]
sal2_t = [0.01, 0.07, 0.34, 0.44, 0.54, 0.61, 0.69, 0.88, 1.15, 1.45,
          1.56, 1.75, 1.86, 1.97, 2.19, 2.26, 2.37, 2.41, 2.56, 2.64,
          2.83, 2.97, 3.10, 3.30, 3.64, 3.97, 4.20, 4.46, 4.54, 4.79,
          5.00, 5.30, 5.60, 5.86, 6.11, 6.27, 6.44, 6.56, 6.73, 6.84,
          6.94, 7.08, 7.18, 7.28, 7.41, 7.49, 7.57, 7.65, 7.70, 7.76,
          7.86, 7.95, 7.99, 8.05, 8.13, 8.31, 8.42, 8.52, 8.63, 8.79,
          9.00, 9.14, 9.24, 9.37, 9.50, 9.58, 9.74, 9.90, 10.03, 10.23,
          10.28, 10.36]
sal2_v = [36.84, 36.83, 36.83, 36.84, 36.87, 36.86, 36.84, 36.83, 36.84, 36.83,
          36.83, 36.85, 36.84, 36.81, 36.80, 36.78, 36.79, 36.78, 36.80, 36.79,
          36.78, 36.76, 36.76, 36.77, 36.76, 36.75, 36.72, 36.67, 36.65, 36.69,
          36.74, 36.72, 36.72, 36.68, 36.59, 36.57, 36.54, 36.55, 36.48, 36.43,
          36.45, 36.46, 36.42, 36.43, 36.39, 36.46, 36.45, 36.52, 36.48, 36.55,
          36.57, 36.56, 36.57, 36.56, 36.57, 36.58, 36.60, 36.61, 36.60, 36.58,
          36.58, 36.57, 36.52, 36.51, 36.53, 36.54, 36.50, 36.49, 36.48, 36.48,
          36.44, 36.43]

# ---------------------------------------------------------------------
BG = '#001a33'
PALE = '#fbfb9e'
DOT = '#eeeeb0'
GREEN = '#00ff00'
ORANGE = '#ff8000'
BLUE = '#3355ff'

W, H, DPI = 1985, 2133, 100
X0 = 189                      # left spine position [px]
DAY = 165.0                   # px per day
XMAX = (W - X0) / DAY
YLAB = 28                     # y tick label size

fig = plt.figure(figsize=(W / DPI, H / DPI), dpi=DPI, facecolor=BG)


def shift(dy_px, dx_px=0):
    return ScaledTranslation(dx_px / DPI, dy_px / DPI, fig.dpi_scale_trans)


def panel(top, bottom, ylim, nstep, spine_color, label_color, labels):
    ax = fig.add_axes([X0 / W, 1 - bottom / H, 1 - X0 / W, (bottom - top) / H])
    ax.set_facecolor(BG)
    ax.set_xlim(0, XMAX)
    ax.set_ylim(*ylim)
    ax.spines['top'].set_visible(False)
    ax.spines['right'].set_visible(False)
    ax.spines['left'].set_color(spine_color)
    ax.spines['left'].set_linewidth(2.2)
    ax.spines['bottom'].set_color(PALE)
    ax.spines['bottom'].set_linewidth(2.8)

    levels = np.linspace(ylim[0], ylim[1], nstep + 1)
    ax.set_yticks(levels)
    ax.set_yticklabels([labels.get(i, '') for i in range(nstep + 1)])
    ax.tick_params(axis='y', which='major', direction='out', length=5, width=2.2,
                   color=PALE, labelcolor=label_color, labelsize=YLAB, pad=7.2)

    ax.set_xticks(np.arange(0, 11))
    ax.set_xticks(np.arange(0, XMAX, 1 / 6), minor=True)
    ax.tick_params(axis='x', which='major', direction='out', length=9.4, width=2.2,
                   color='white', labelbottom=False)
    ax.tick_params(axis='x', which='minor', direction='out', length=2.2, width=2.2,
                   color=PALE)

    # dotted grid: one dot per 12 h and per y division
    gx, gy = np.meshgrid(np.arange(0.5, XMAX, 0.5), levels[1:])
    ax.scatter(gx.ravel(), gy.ravel(), s=5, marker='s', color=DOT,
               linewidths=0, clip_on=False, zorder=1)
    return ax


def shift_ylabels(ax, shifts):
    ticks = ax.yaxis.get_major_ticks()
    for i, dy in shifts.items():
        lab = ticks[i].label1
        lab.set_transform(lab.get_transform() + shift(dy))


# panel 1 - wind speed
ax1 = panel(35, 299.3, (0, 30), 6, PALE, PALE, {0: '0', 2: '10', 4: '20', 6: '30'})
ax1.plot(ws_t, ws_mean, color='#00ffff', lw=2.0, zorder=3)
ax1.plot(ws_t, ws_gust, color='#c80000', lw=2.0, zorder=4)
shift_ylabels(ax1, {6: 4, 4: 4, 2: 3, 0: 19})

# panel 2 - wind direction
ax2 = panel(330, 595, (0, 360), 8, PALE, PALE, {0: '0', 4: '180', 8: '360'})
ax2.plot(wd_t, wd_cyan, color='#00ffff', lw=1.8, zorder=3)
ax2.plot(wd_t, wd_red, color='#c80000', lw=1.8, zorder=4)
shift_ylabels(ax2, {8: -13, 4: -5, 0: 30})

# panel 3 - temperatures
ax3 = panel(625, 889, (4, 20), 10, 'white', GREEN, {0: '4', 5: '12', 10: '20'})
ax3.plot(tair_t, tair_v, color=GREEN, lw=1.8, zorder=3)
ax3.plot(tsea_t, tsea_v, color='#cc00cc', lw=1.8, zorder=3)
shift_ylabels(ax3, {10: -14, 5: -3, 0: 21})

# panel 4 - pressure and second scale
ax4 = panel(920, 1184, (990, 1030), 8, PALE, '#ffff00', {0: '990', 4: '1010', 8: '1030'})
ax4.plot(pres_t, pres_v, color='#ffff00', lw=1.8, zorder=3)
shift_ylabels(ax4, {8: -13, 4: -3, 0: 21})
tw4 = ax4.twinx()
tw4.set_ylim(300, 500)
tw4.yaxis.tick_left()
tw4.set_yticks([300, 400, 500])
tw4.set_yticklabels(['300', '400', '500'])
tw4.tick_params(axis='y', length=0, pad=88, labelcolor=BLUE, labelsize=YLAB)
for s in tw4.spines.values():
    s.set_visible(False)
tw4.plot(cond_t1, cond_v1, color=BLUE, lw=1.8, zorder=3)
tw4.plot(cond_t2, cond_v2, color=BLUE, lw=1.8, zorder=3)
shift_ylabels(tw4, {2: -13, 1: -3, 0: 21})

# panel 5 - pH
ax5 = panel(1214.3, 1478.7, (7.8, 8.2), 8, 'white', '#8000ff', {0: '7.8', 4: '8.0', 8: '8.2'})
ax5.plot(ph_t, ph_v, color=BLUE, lw=1.8, zorder=3)
shift_ylabels(ax5, {8: -15, 4: -5, 0: 21})

# panel 6 - dissolved oxygen, orange inner scale
ax6 = panel(1509, 1773, (4, 7), 8, ORANGE, ORANGE, {})
ax6.plot(ox1_t, ox1_v, color=BLUE, lw=1.8, zorder=3)
ax6.plot(ox2_t, ox2_v, color='#ff0000', lw=1.8, zorder=3)
tw6 = ax6.twinx()
tw6.set_ylim(4, 7)
tw6.yaxis.tick_left()
tw6.set_yticks(np.arange(4, 7.01, 0.5))
tw6.set_yticklabels(['4', '', '', '6', '', '', '7'])
tw6.tick_params(axis='y', direction='in', length=5, width=2.2, color=ORANGE,
                labelcolor=ORANGE, labelsize=YLAB, pad=12.2)
for s in tw6.spines.values():
    s.set_visible(False)
shift_ylabels(tw6, {6: -15, 3: -6, 0: 20})

# panel 7 - salinity
ax7 = panel(1803.3, 2068.3, (36, 38), 8, PALE, 'white', {0: '36.0', 4: '37.0', 8: '38.0'})
ax7.plot(sal1_t, sal1_v, color='#e6a800', lw=1.8, zorder=3)
ax7.plot(sal2_t, sal2_v, color='#00a8ff', lw=1.8, zorder=3)
shift_ylabels(ax7, {8: -13, 4: -3, 0: 21})
ax7.set_xticklabels(day_labels)
ax7.tick_params(axis='x', which='major', labelbottom=True, labelsize=32,
                labelcolor=PALE, pad=9)
for t in ax7.xaxis.get_major_ticks():
    t.label1.set_transform(t.label1.get_transform() + shift(0, 20))


# unit labels
def unit(x_px, y_px, text, color, size=31):
    fig.text(x_px / W, 1 - y_px / H, text, ha='right', va='center',
             color=color, fontsize=size)


unit(112, 28, '[m/s]', PALE)
unit(92, 340, '[°]', PALE)
unit(107, 634, '[°C]', GREEN)
unit(112, 1517, '[ml/l]', ORANGE)
unit(90, 1813, '[psu]', 'white', size=29)

fig.savefig('out.png', dpi=DPI, facecolor=BG)
